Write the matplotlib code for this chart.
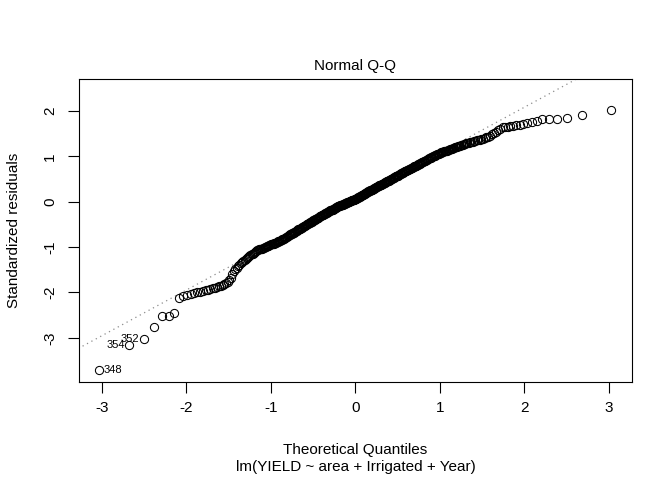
import numpy as np
import matplotlib.pyplot as plt
from statistics import NormalDist

# residuos padronizados ordenados
residuos = [
    -3.72, -3.15, -3.03, -2.77, -2.52, -2.52, -2.46, -2.13,
    -2.08, -2.06, -2.04, -2.02, -2.00, -1.98, -1.97, -1.95, -1.94, -1.93, -1.91,
    -1.90, -1.88, -1.86, -1.85, -1.83, -1.81, -1.78, -1.76, -1.73,
    -1.68, -1.60, -1.52,
    -1.48, -1.45, -1.42, -1.39, -1.36, -1.33, -1.30, -1.28, -1.26,
    -1.24, -1.22, -1.20, -1.18, -1.16, -1.14, -1.12, -1.10, -1.09, -1.07,
    -1.06, -1.05, -1.04, -1.03, -1.03, -1.02, -1.01, -1.00, -0.99, -0.98,
    -0.97, -0.97, -0.96, -0.95, -0.94, -0.93, -0.93, -0.92, -0.91, -0.90,
    -0.90, -0.89, -0.88, -0.87, -0.87, -0.86,
    -0.85, -0.84, -0.83, -0.82, -0.81, -0.80, -0.79, -0.78, -0.77, -0.76,
    -0.75, -0.74, -0.73, -0.72,
    -0.71, -0.70, -0.69, -0.68, -0.68, -0.67, -0.66, -0.65, -0.64, -0.63,
    -0.62, -0.61, -0.60, -0.60, -0.59, -0.58, -0.57, -0.56, -0.55, -0.54,
    -0.54, -0.53, -0.52, -0.51, -0.50, -0.49, -0.48, -0.47, -0.47, -0.46,
    -0.45, -0.44, -0.44, -0.43, -0.42, -0.41, -0.40, -0.40, -0.39, -0.38,
    -0.37, -0.36, -0.36, -0.35, -0.34, -0.33, -0.32, -0.32, -0.31, -0.30,
    -0.29, -0.29, -0.28, -0.27, -0.27, -0.26, -0.25, -0.25, -0.24, -0.23,
    -0.23, -0.22, -0.21, -0.21, -0.20, -0.19, -0.19, -0.18, -0.17, -0.17,
    -0.16, -0.15, -0.15, -0.14, -0.14, -0.13, -0.12, -0.12, -0.11, -0.10,
    -0.10, -0.09, -0.09, -0.08, -0.08, -0.07, -0.07, -0.06, -0.06, -0.05,
    -0.05, -0.04, -0.04, -0.03, -0.03, -0.02, -0.02, -0.01, -0.01, 0.00,
    0.00, 0.01, 0.01, 0.02, 0.02, 0.03, 0.03, 0.04, 0.04, 0.05,
    0.05, 0.06, 0.06,
    0.07, 0.07, 0.08, 0.09, 0.09, 0.10, 0.11, 0.11, 0.12, 0.13,
    0.13, 0.14, 0.15, 0.15, 0.16, 0.17, 0.17,
    0.18, 0.19, 0.19, 0.20, 0.21, 0.21, 0.22, 0.23, 0.23, 0.24,
    0.25, 0.25, 0.26, 0.27, 0.27, 0.28, 0.29, 0.29, 0.30, 0.30,
    0.31, 0.32, 0.32, 0.33, 0.34, 0.34, 0.35, 0.36, 0.36, 0.37,
    0.38, 0.38, 0.39, 0.40, 0.40, 0.41, 0.42, 0.42, 0.43, 0.44,
    0.44, 0.45, 0.46, 0.46, 0.47, 0.48, 0.49, 0.49, 0.50, 0.51,
    0.51, 0.52, 0.53, 0.53, 0.54, 0.55, 0.56, 0.56, 0.57, 0.58,
    0.58, 0.59, 0.60, 0.61, 0.61, 0.62, 0.63, 0.64, 0.64, 0.65,
    0.66, 0.67, 0.67, 0.68, 0.69, 0.70, 0.70, 0.71, 0.72, 0.72,
    0.73, 0.74, 0.75, 0.75, 0.76, 0.77, 0.78, 0.79, 0.79, 0.80,
    0.81, 0.82, 0.83, 0.83, 0.84, 0.85, 0.86, 0.87, 0.87, 0.88,
    0.89, 0.90, 0.91, 0.92, 0.93, 0.94, 0.95, 0.96, 0.96, 0.97,
    0.98, 0.99, 1.00, 1.01, 1.02, 1.03, 1.04, 1.05, 1.05, 1.06,
    1.07, 1.08, 1.09, 1.09, 1.10, 1.11, 1.12, 1.12, 1.13, 1.14,
    1.15, 1.16, 1.16, 1.17, 1.18, 1.19, 1.20, 1.21, 1.21, 1.22,
    1.23, 1.24, 1.25, 1.26, 1.27, 1.28, 1.29, 1.30, 1.30, 1.31,
    1.32, 1.33, 1.34, 1.35, 1.36, 1.37, 1.37, 1.38, 1.39, 1.40,
    1.42, 1.44, 1.46, 1.49, 1.52, 1.55, 1.58, 1.61, 1.64, 1.66,
    1.66, 1.67, 1.68, 1.69, 1.70, 1.72, 1.73, 1.75, 1.78, 1.82,
    1.83, 1.83, 1.84, 1.92, 2.03,
]
# observacoes identificadas (as tres menores)
ids_destacados = ['348', '354', '352']

titulo = 'Normal Q-Q'
rotulo_x = 'Theoretical Quantiles'
subtitulo = 'lm(YIELD ~ area + Irrigated + Year)'
rotulo_y = 'Standardized residuals'

plt.rcParams['font.family'] = ['Liberation Sans', 'DejaVu Sans']

y = np.array(residuos)
n = len(y)
# quantis teoricos como no qqnorm do R: ppoints(n)
nd = NormalDist()
x = np.array([nd.inv_cdf((i - 0.5) / n) for i in range(1, n + 1)])

fig = plt.figure(figsize=(6.72, 4.8), dpi=100)
ax = fig.add_axes([79 / 672, 1 - 381.7 / 480, (631.7 - 79) / 672, (381.7 - 79) / 480])

ax.plot(x, y, 'o', mfc='none', mec='black', ms=5.9, mew=0.75, zorder=3)

# linha de referencia pelos quartis
q1, q3 = np.quantile(y, [0.25, 0.75])
inc = (q3 - q1) / (nd.inv_cdf(0.75) - nd.inv_cdf(0.25))
intercepto = q1 - inc * nd.inv_cdf(0.25)
xx = np.array([-5, 5])
ax.plot(xx, intercepto + inc * xx, color='#8c8c8c', lw=0.9, ls=(0, (1, 3)), zorder=2)

# limites como no R (4% extra, e 7.5% no topo do plot.lm)
ylo, yhi = y.min(), y.max()
yhi = yhi + (yhi - ylo) * 0.075
r = yhi - ylo
ax.set_ylim(ylo - 0.04 * r, yhi + 0.04 * r)
rx = x.max() - x.min()
ax.set_xlim(x.min() - 0.04 * rx, x.max() + 0.04 * rx)

# rotulos dos pontos extremos
xs = x[:3]
meio = (xs.min() + xs.max()) / 2
for k in range(3):
    if xs[k] > meio:
        ax.annotate(ids_destacados[k], (x[k], y[k]), xytext=(-3, 0), textcoords='offset points',
                    ha='right', va='center', fontsize=8)
    else:
        ax.annotate(ids_destacados[k], (x[k], y[k]), xytext=(3, 0), textcoords='offset points',
                    ha='left', va='center', fontsize=8)

ax.set_xticks([-3, -2, -1, 0, 1, 2, 3])
ax.set_yticks([-3, -2, -1, 0, 1, 2])
ax.set_xticklabels(['-3', '-2', '-1', '0', '1', '2', '3'])
ax.set_yticklabels(['-3', '-2', '-1', '0', '1', '2'], rotation=90, va='center')
ax.tick_params(direction='out', length=7.7, width=0.8, labelsize=11, pad=6)
ax.tick_params(axis='y', pad=8)
for s in ax.spines.values():
    s.set_linewidth(0.8)

fig.text(355.4 / 672, 1 - 66 / 480, titulo, ha='center', va='center', fontsize=11)
fig.text(355.4 / 672, 1 - 450 / 480, rotulo_x, ha='center', va='center', fontsize=11)
fig.text(355.4 / 672, 1 - 467 / 480, subtitulo, ha='center', va='center', fontsize=11)
fig.text(14 / 672, 1 - 230 / 480, rotulo_y, ha='center', va='center', rotation=90, fontsize=11)

plt.savefig('out.png', dpi=100)
